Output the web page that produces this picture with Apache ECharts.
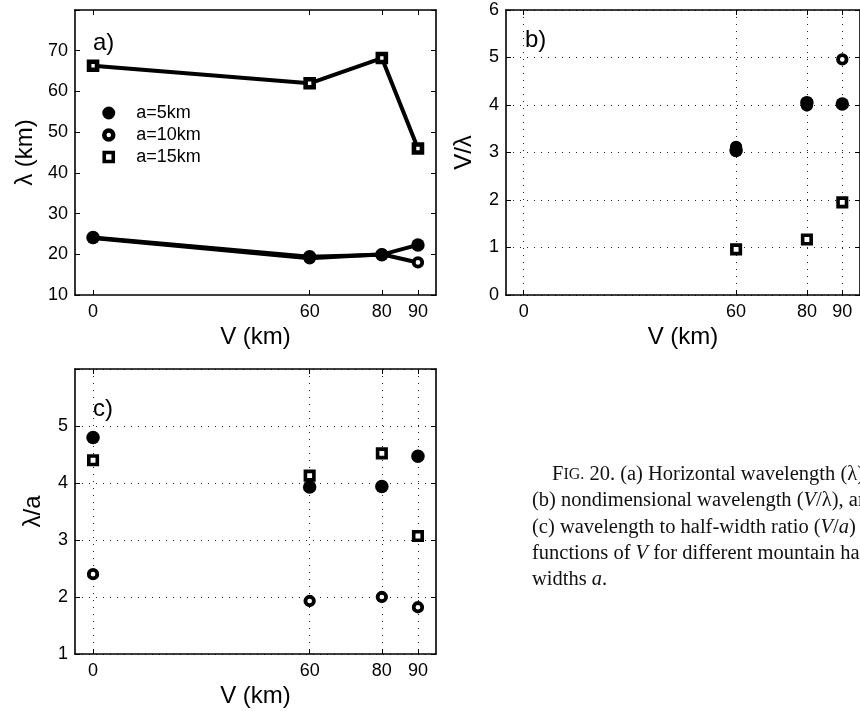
<!DOCTYPE html>
<html>
<head>
<meta charset="utf-8">
<script src="https://cdn.jsdelivr.net/npm/echarts@6/dist/echarts.min.js"></script>
<style>html,body{margin:0;padding:0;background:#fff;}#c{width:860px;height:711px;}</style>
</head>
<body>
<div id="c"></div>
<script>
// ---- data ----
const V = [0, 60, 80, 90];
const xTicks = [0, 60, 80, 90];
// panel a: wavelength lambda (km)
const lam5 = [24.1, 19.4, 19.9, 22.3];
const lam10 = [24.0, 19.0, 20.0, 18.0];
const lam15 = [66.3, 62.0, 68.2, 46.0];
// panel b: V/lambda
const vl5 = [null, 3.04, 4.05, 4.02];
const vl10 = [null, 3.12, 3.99, 4.96];
const vl15 = [null, 0.96, 1.17, 1.95];
// panel c: lambda/a
const la5 = [4.80, 3.93, 3.94, 4.47];
const la10 = [2.40, 1.93, 2.00, 1.82];
const la15 = [4.40, 4.13, 4.52, 3.07];
const names = ['a=5km', 'a=10km', 'a=15km'];

const pairs = (ys) => V.map((v, i) => [v, ys[i]]).filter(p => p[1] !== null);
const FONT = 'Liberation Sans';
const grids = [
  {left: 75, top: 10, width: 361, height: 285},
  {left: 506, top: 10, width: 361, height: 285},
  {left: 75, top: 369, width: 361, height: 285}
];
const dotted = {show: true, lineStyle: {color: '#222', type: [1, 6], width: 1}};
function xAx(g, pos, showGrid) {
  return {
    type: 'value', gridIndex: g, position: pos, min: -5, max: 95,
    axisLine: {show: true, onZero: false, lineStyle: {color: '#000', width: 1.6}},
    axisTick: {show: true, inside: true, length: 5, customValues: xTicks, lineStyle: {color: '#000'}},
    axisLabel: {show: pos === 'bottom', customValues: xTicks, color: '#000', fontFamily: FONT, fontSize: 18, margin: 8},
    splitLine: showGrid && pos === 'bottom' ? dotted : {show: false},
    name: pos === 'bottom' ? 'V (km)' : '', nameLocation: 'middle', nameGap: 30,
    nameTextStyle: {color: '#000', fontFamily: FONT, fontSize: 24}
  };
}
function yAx(g, pos, min, max, interval, hideMax, showGrid, name, gap) {
  return {
    type: 'value', gridIndex: g, position: pos, min: min, max: max, interval: interval,
    axisLine: {show: true, onZero: false, lineStyle: {color: '#000', width: 1.6}},
    axisTick: {show: true, inside: true, length: 5, lineStyle: {color: '#000'}},
    axisLabel: {show: pos === 'left', color: '#000', fontFamily: FONT, fontSize: 18, margin: 7,
      formatter: (v) => (hideMax && v === max) ? '' : String(v)},
    splitLine: showGrid && pos === 'left' ? dotted : {show: false},
    name: pos === 'left' ? name : '', nameLocation: 'middle', nameGap: gap,
    nameTextStyle: {color: '#000', fontFamily: FONT, fontSize: 24}
  };
}
const filled = {symbol: 'circle', symbolSize: 13.5, itemStyle: {color: '#000', borderColor: '#000', borderWidth: 0, opacity: 1}};
const openC = {symbol: 'circle', symbolSize: 8.5, itemStyle: {color: '#fff', borderColor: '#000', borderWidth: 3.8, opacity: 1}};
const sq = {symbol: 'rect', symbolSize: 8.5, itemStyle: {color: '#fff', borderColor: '#000', borderWidth: 3.6, opacity: 1}};
const sqA = {symbol: 'rect', symbolSize: 8, itemStyle: {color: '#fff', borderColor: '#000', borderWidth: 4.6, opacity: 1}};

function ser(name, type, xi, data, sty, z) {
  const s = Object.assign({name: name, type: type, xAxisIndex: xi, yAxisIndex: xi, data: data, z: z,
    animation: false, silent: true}, JSON.parse(JSON.stringify(sty)));
  if (type === 'line') {
    s.showSymbol = true;
    s.lineStyle = {color: '#000', width: 4};
  }
  return s;
}

const series = [
  ser(names[1], 'line', 0, pairs(lam10), openC, 2),
  ser(names[0], 'line', 0, pairs(lam5), filled, 3),
  ser(names[2], 'line', 0, pairs(lam15), sqA, 4),
  ser(names[1], 'scatter', 1, pairs(vl10), openC, 2),
  ser(names[0], 'scatter', 1, pairs(vl5), filled, 3),
  ser(names[2], 'scatter', 1, pairs(vl15), sq, 4),
  ser(names[1], 'scatter', 2, pairs(la10), openC, 2),
  ser(names[0], 'scatter', 2, pairs(la5), filled, 3),
  ser(names[2], 'scatter', 2, pairs(la15), sq, 4)
];

const serif = 'Liberation Serif';
const CS = 20.5;
const capStyle = {fontFamily: serif, fontSize: CS, fill: '#111'};
const rich = {
  F: {fontFamily: serif, fontSize: CS, color: '#111'},
  s: {fontFamily: serif, fontSize: 16, color: '#111'},
  i: {fontFamily: serif, fontSize: CS, fontStyle: 'italic', color: '#111'}
};
function cap(x, y, text) {
  return {type: 'text', x: x, y: y, silent: true,
    style: Object.assign({text: text, rich: rich, textVerticalAlign: 'alphabetic'}, capStyle)};
}

const option = {
  backgroundColor: '#fff',
  animation: false,
  grid: grids,
  xAxis: [xAx(0, 'bottom', false), xAx(1, 'bottom', true), xAx(2, 'bottom', true),
          xAx(0, 'top', false), xAx(1, 'top', true), xAx(2, 'top', true)],
  yAxis: [yAx(0, 'left', 10, 80, 10, true, false, 'λ (km)', 38),
          yAx(1, 'left', 0, 6, 1, false, true, 'V/λ', 30),
          yAx(2, 'left', 1, 6, 1, true, true, 'λ/a', 30),
          yAx(0, 'right', 10, 80, 10, true, false, '', 0),
          yAx(1, 'right', 0, 6, 1, false, true, '', 0),
          yAx(2, 'right', 1, 6, 1, true, true, '', 0)],
  legend: {
    orient: 'vertical', left: 97, top: 99, itemGap: 4, itemWidth: 9, itemHeight: 9,
    selectedMode: false,
    textStyle: {color: '#000', fontFamily: FONT, fontSize: 18, lineHeight: 18, padding: [0, 0, 0, 18]},
    data: [
      {name: names[0], icon: 'circle', itemStyle: {color: '#000', borderColor: '#000', borderWidth: 4}},
      {name: names[1], icon: 'circle', itemStyle: {color: '#fff', borderColor: '#000', borderWidth: 4.5}},
      {name: names[2], icon: 'rect', itemStyle: {color: '#fff', borderColor: '#000', borderWidth: 3.6}}
    ]
  },
  graphic: [
    {type: 'text', x: 93, y: 31, silent: true, style: {text: 'a)', fontFamily: FONT, fontSize: 24, fill: '#000'}},
    {type: 'text', x: 525, y: 28, silent: true, style: {text: 'b)', fontFamily: FONT, fontSize: 24, fill: '#000'}},
    {type: 'text', x: 93, y: 397, silent: true, style: {text: 'c)', fontFamily: FONT, fontSize: 24, fill: '#000'}},
    cap(552, 464, '{F|F}{s|IG.} 20. (a) Horizontal wavelength (λ),'),
    cap(532, 490, '(b) nondimensional wavelength ({i|V}/λ), and'),
    cap(532, 517, '(c) wavelength to half-width ratio ({i|V}/{i|a}) as'),
    cap(532, 543, 'functions of {i|V} for different mountain half-'),
    cap(532, 569, 'widths {i|a}.')
  ],
  series: series
};
const chart = echarts.init(document.getElementById('c'), null, {renderer: 'canvas'});
chart.setOption(option);
</script>
</body>
</html>
